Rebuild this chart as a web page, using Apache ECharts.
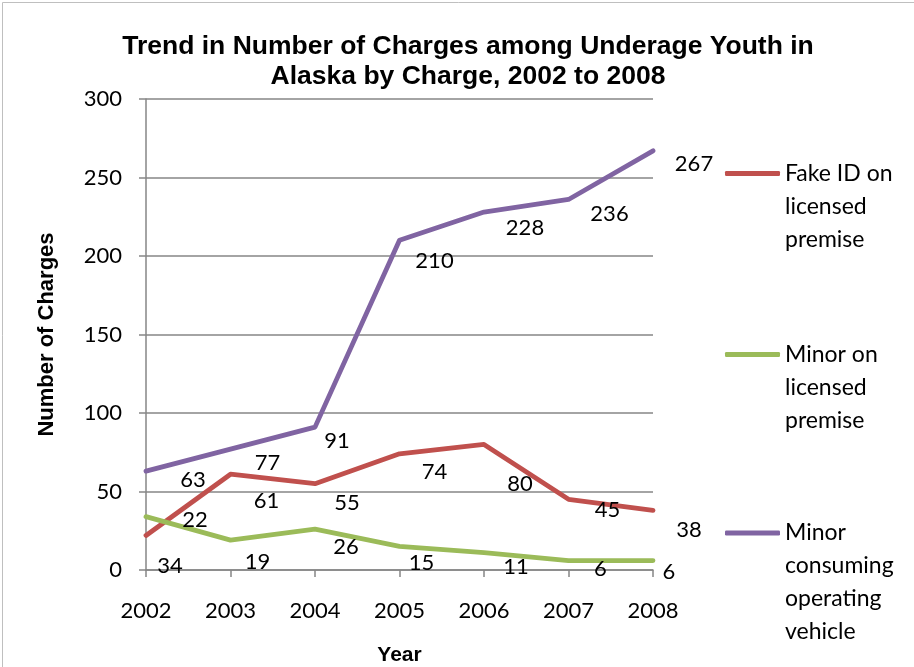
<!DOCTYPE html>
<html>
<head>
<meta charset="utf-8">
<script src="https://cdn.jsdelivr.net/npm/echarts@6/dist/echarts.min.js"></script>
<style>
html,body{margin:0;padding:0;background:#fff;}
#chart{width:914px;height:667px;}
</style>
</head>
<body>
<div id="chart"></div>
<script>
// ---- data ----
var years = ['2002','2003','2004','2005','2006','2007','2008'];
var seriesNames = ['Fake ID on licensed premise','Minor on licensed premise','Minor consuming operating vehicle'];
var fakeId = [22, 61, 55, 74, 80, 45, 38];
var minorOnPremise = [34, 19, 26, 15, 11, 6, 6];
var minorConsumingVehicle = [63, 77, 91, 210, 228, 236, 267];
var legendText = ['Fake ID on\nlicensed\npremise', 'Minor on\nlicensed\npremise', 'Minor\nconsuming\noperating\nvehicle'];
var yTicks = [0, 50, 100, 150, 200, 250, 300];

// ---- style (label placement relative to each point) ----
var labelOffsets = [
  [[49,-16],[36,27],[32,19],[35,18],[36,40],[39,11],[36,20]],
  [[24,49],[27,22],[31,18],[22,16],[32,14],[32,8],[16,11]],
  [[47,9],[37,14],[22,14],[35,21],[41,16],[41,14],[41,13]]
];
var colors = ['#C0504D', '#9BBB59', '#8064A2'];
var FONT = 'Lato';
var gridColor = '#868686';

function buildData(values, offs) {
  return values.map(function (v, i) {
    return { value: v, label: { offset: offs[i] } };
  });
}
var allValues = [fakeId, minorOnPremise, minorConsumingVehicle];

var series = allValues.map(function (vals, k) {
  return {
    name: seriesNames[k],
    type: 'line',
    data: buildData(vals, labelOffsets[k]),
    symbol: 'circle',
    symbolSize: 1,
    showSymbol: true,
    lineStyle: { color: colors[k], width: 4.8, cap: 'round', join: 'round' },
    itemStyle: { color: colors[k] },
    emphasis: { disabled: true },
    animation: false,
    z: 2,
    label: {
      show: true,
      position: 'inside',
      align: 'center',
      verticalAlign: 'middle',
      color: '#000',
      fontFamily: FONT,
      fontSize: 22
    }
  };
});

var lh = 33;
var legendTops = [91, 272, 417.5];
var legends = seriesNames.map(function (n, k) {
  var lines = legendText[k].split('\n');
  var pre = '';
  for (var i = 1; i < lines.length; i++) pre += ' \n';
  return {
    data: [{ name: n, icon: 'roundRect' }],
    orient: 'vertical',
    left: 725,
    top: legendTops[k],
    padding: 0,
    itemWidth: 55,
    itemHeight: 5,
    selectedMode: false,
    formatter: function () { return pre + legendText[k]; },
    textStyle: {
      fontFamily: FONT,
      fontSize: 23,
      color: '#000',
      lineHeight: lh
    }
  };
});

var option = {
  animation: false,
  color: colors,
  title: {
    text: 'Trend in Number of Charges among Underage Youth in\nAlaska by Charge, 2002 to 2008',
    left: 468,
    top: 32,
    textAlign: 'center',
    padding: 0,
    textStyle: {
      fontFamily: 'Liberation Sans',
      fontWeight: 'bold',
      fontSize: 26.5,
      lineHeight: 30,
      color: '#000'
    }
  },
  legend: legends,
  grid: { left: 146, right: 261, top: 99, bottom: 97, containLabel: false, outerBoundsMode: 'none' },
  xAxis: {
    type: 'category',
    data: years,
    boundaryGap: false,
    name: 'Year',
    nameLocation: 'middle',
    nameGap: 75,
    nameTextStyle: { fontFamily: 'Liberation Sans', fontWeight: 'bold', fontSize: 21, color: '#000' },
    axisLine: { lineStyle: { color: gridColor, width: 1.5 } },
    axisTick: { show: true, alignWithLabel: true, length: 7, lineStyle: { color: gridColor, width: 1.5 } },
    axisLabel: { fontFamily: FONT, fontSize: 22, color: '#000', margin: 30 },
    splitLine: { show: false }
  },
  yAxis: {
    type: 'value',
    min: yTicks[0],
    max: yTicks[yTicks.length - 1],
    interval: yTicks[1] - yTicks[0],
    name: 'Number of Charges',
    nameLocation: 'middle',
    nameGap: 88,
    nameRotate: 90,
    nameTextStyle: { fontFamily: 'Liberation Sans', fontWeight: 'bold', fontSize: 22, color: '#000' },
    axisLine: { show: true, lineStyle: { color: gridColor, width: 1.5 } },
    axisTick: { show: true, length: 7, lineStyle: { color: gridColor, width: 1.5 } },
    axisLabel: { fontFamily: FONT, fontSize: 22, color: '#000', margin: 24 },
    splitLine: { show: true, lineStyle: { color: gridColor, width: 1.5 } }
  },
  graphic: [{
    type: 'rect',
    left: 0, top: 0,
    shape: { x: 0.5, y: 0.5, width: 913, height: 666 },
    style: { fill: 'none', stroke: '#bfbfbf', lineWidth: 1 },
    silent: true,
    z: -10
  }],
  series: series
};

var chart = echarts.init(document.getElementById('chart'), null, { renderer: 'canvas' });
chart.setOption(option);
</script>
</body>
</html>
